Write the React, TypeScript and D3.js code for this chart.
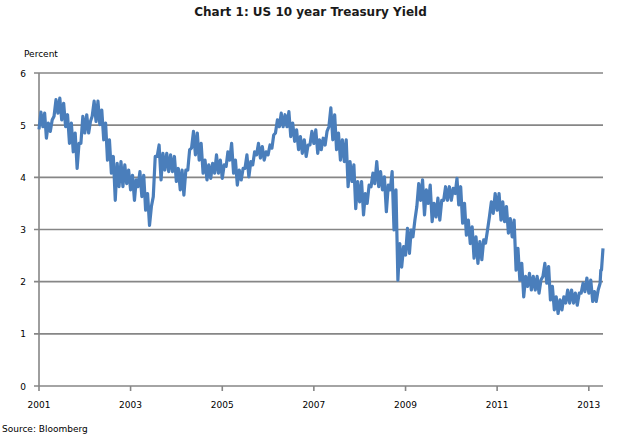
import { useMemo } from "react";
import * as d3 from "d3";

// monthly trading range (percent), Jan 2001 .. Apr 2013, plus the last stretch
const yieldLow = [
  4.92, 4.97, 4.75, 4.88, 5.17, 5.23, 5.1, 4.97, 4.65, 4.49, 4.17, 4.65,
  4.85, 4.85, 5.17, 5.07, 5.01, 4.72, 4.33, 4.08, 3.56, 3.82, 3.82, 3.88,
  3.76, 3.56, 3.82, 3.63, 3.37, 3.08, 3.63, 4.4, 3.95, 4.14, 4.11, 4.11,
  3.92, 3.76, 3.66, 4.14, 4.56, 4.43, 4.33, 4.08, 3.95, 3.98, 4.08, 4.08,
  3.98, 4.21, 4.33, 4.08, 3.85, 3.95, 4.17, 4.01, 4.24, 4.43, 4.37, 4.33,
  4.43, 4.56, 4.85, 4.97, 4.97, 4.97, 4.78, 4.69, 4.53, 4.46, 4.4, 4.62,
  4.65, 4.46, 4.53, 4.62, 4.97, 4.72, 4.53, 4.33, 4.3, 3.82, 3.92, 3.4,
  3.53, 3.28, 3.5, 3.82, 3.88, 3.82, 3.76, 3.34, 3.76, 2.99, 2.03, 2.28,
  2.51, 2.54, 2.86, 3.44, 3.56, 3.28, 3.5, 3.15, 3.24, 3.18, 3.56, 3.56,
  3.56, 3.69, 3.47, 3.12, 2.89, 2.73, 2.45, 2.35, 2.42, 2.74, 3.25, 3.31,
  3.37, 3.18, 3.15, 2.93, 2.86, 2.22, 2.03, 1.71, 1.91, 1.84, 1.84, 1.78,
  2.1, 1.97, 1.65, 1.46, 1.39, 1.46, 1.59, 1.59, 1.59, 1.55, 1.78, 1.81,
  1.78, 1.62, 1.62, 1.97, 2.22,
];

const yieldHigh = [
  5.25, 5.23, 5.04, 5.1, 5.49, 5.52, 5.42, 5.2, 5.04, 4.85, 4.65, 5.17,
  5.2, 5.07, 5.46, 5.46, 5.29, 5.04, 4.72, 4.4, 4.27, 4.3, 4.24, 4.14,
  4.04, 3.95, 4.11, 4.04, 3.69, 3.44, 4.4, 4.62, 4.46, 4.46, 4.43, 4.4,
  4.17, 4.14, 4.14, 4.53, 4.88, 4.85, 4.65, 4.33, 4.24, 4.27, 4.43, 4.33,
  4.24, 4.49, 4.65, 4.33, 4.14, 4.17, 4.43, 4.3, 4.49, 4.65, 4.59, 4.49,
  4.62, 4.81, 5.1, 5.23, 5.2, 5.26, 5.04, 4.91, 4.78, 4.72, 4.62, 4.88,
  4.91, 4.72, 4.75, 4.88, 5.33, 5.2, 4.85, 4.72, 4.72, 4.3, 4.24, 3.92,
  3.92, 3.69, 3.85, 4.08, 4.3, 4.11, 4.01, 3.85, 4.11, 3.76, 2.73, 2.67,
  3.02, 2.99, 3.18, 3.88, 3.95, 3.76, 3.85, 3.5, 3.6, 3.56, 3.82, 3.82,
  3.79, 3.98, 3.82, 3.5, 3.18, 3.05, 2.86, 2.77, 2.8, 2.99, 3.53, 3.69,
  3.69, 3.53, 3.44, 3.21, 3.18, 2.64, 2.35, 2.1, 2.16, 2.1, 2.1, 2.03,
  2.35, 2.29, 1.91, 1.71, 1.65, 1.71, 1.84, 1.84, 1.78, 1.78, 1.97, 2.07,
  2.03, 1.81, 1.84, 2.22, 2.64,
];

const yTicks = [0, 1, 2, 3, 4, 5, 6];
const xTickYears = [2001, 2003, 2005, 2007, 2009, 2011, 2013];

const startDate = new Date(2001, 0, 1);
const endDate = new Date(2013, 3, 24);

const W = 619;
const H = 441;
const margin = { left: 39, right: 16, top: 73, bottom: 55 };

const font = "Verdana, 'DejaVu Sans', sans-serif";
const lineColor = "#4A7EBB";
const gridColor = "#868686";

export default function App() {
  const x = useMemo(
    () => d3.scaleTime().domain([startDate, endDate]).range([margin.left, W - margin.right]),
    []
  );
  const y = useMemo(
    () => d3.scaleLinear().domain([0, 6]).range([H - margin.bottom, margin.top]),
    []
  );

  // period start dates: one per month, last one covers the final weeks
  const periods = useMemo(() => {
    const months = d3.timeMonth.range(startDate, new Date(2013, 3, 2));
    return [...months, new Date(2013, 3, 12)];
  }, []);

  // zigzag through low/high of each period to mimic the daily noise
  const points = useMemo(() => {
    const pts: [Date, number][] = [];
    periods.forEach((d, i) => {
      const next = i < periods.length - 1 ? periods[i + 1] : endDate;
      const mid = new Date((d.getTime() + next.getTime()) / 2);
      pts.push([d, yieldLow[i]]);
      pts.push([i < periods.length - 1 ? mid : endDate, yieldHigh[i]]);
    });
    return pts;
  }, [periods]);

  const line = d3
    .line<[Date, number]>()
    .x((d) => x(d[0]))
    .y((d) => y(d[1]));

  const x0 = margin.left;
  const x1 = W - margin.right;
  const yBase = y(0);

  return (
    <svg
      width={W}
      height={H}
      style={{ position: "absolute", left: 0, top: 0, background: "#fff" }}
      fontFamily={font}
    >
      <text x={310.5} y={15.5} textAnchor="middle" fontSize={12} fontWeight="bold" fill="#1a1a1a">
        Chart 1: US 10 year Treasury Yield
      </text>
      <text x={24} y={57} fontSize={9} fill="#000">
        Percent
      </text>

      {/* gridlines + y labels */}
      {yTicks.map((t) => (
        <g key={t}>
          {t > 0 && (
            <line x1={x0 - 5} x2={x1} y1={y(t)} y2={y(t)} stroke={gridColor} strokeWidth={1.6} />
          )}
          <text x={26} y={y(t) + 3.5} textAnchor="end" fontSize={9} fill="#000">
            {t}
          </text>
        </g>
      ))}

      {/* axes */}
      <line x1={x0} x2={x0} y1={y(6)} y2={yBase} stroke={gridColor} strokeWidth={1.6} />
      <line x1={x0 - 5} x2={x1} y1={yBase} y2={yBase} stroke={gridColor} strokeWidth={1.6} />
      {xTickYears.map((yr) => {
        const px = x(new Date(yr, 0, 1));
        return (
          <g key={yr}>
            <line x1={px} x2={px} y1={yBase} y2={yBase + 5} stroke={gridColor} strokeWidth={1.6} />
            <text x={px} y={408} textAnchor="middle" fontSize={9} fill="#000">
              {yr}
            </text>
          </g>
        );
      })}

      <path d={line(points) || ""} fill="none" stroke={lineColor} strokeWidth={3.2} strokeLinejoin="round" />

      <text x={2} y={432} fontSize={9} fill="#000">
        Source: Bloomberg
      </text>
    </svg>
  );
}
